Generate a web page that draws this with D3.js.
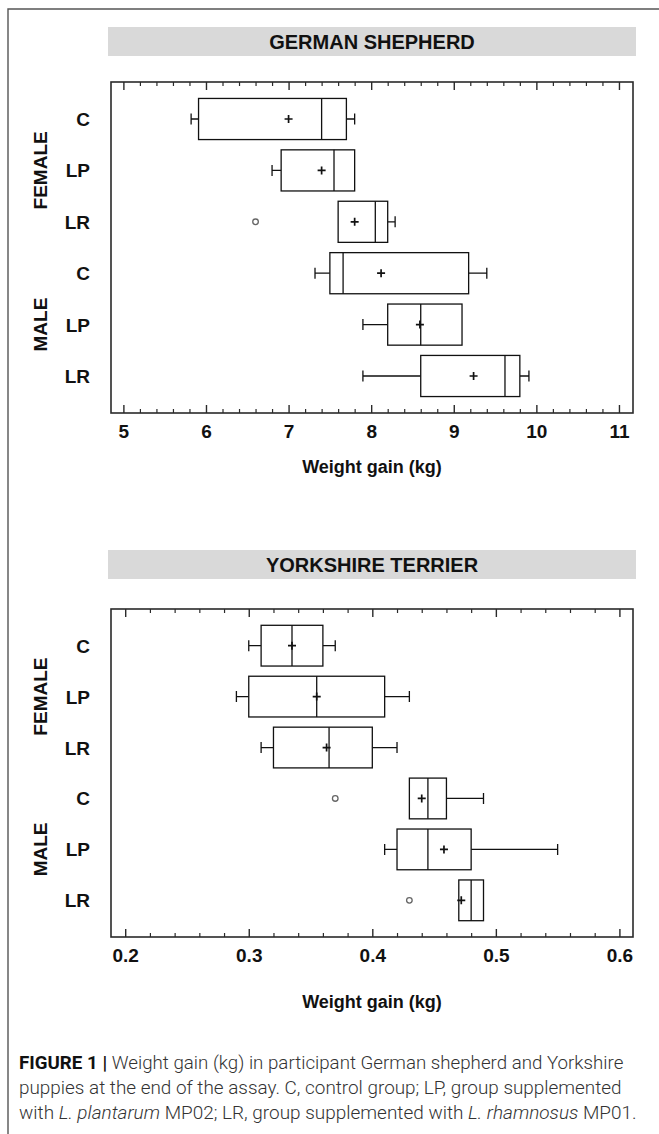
<!DOCTYPE html>
<html>
<head>
<meta charset="utf-8">
<script src="https://cdn.jsdelivr.net/npm/d3@7"></script>
<style>
  html,body{margin:0;padding:0;background:#fff;}
  svg{display:block;}
</style>
</head>
<body>
<svg id="fig" width="659" height="1134"></svg>
<script>
const rowKeys=["F-C","F-LP","F-LR","M-C","M-LP","M-LR"];
const rowLabels=["C","LP","LR","C","LP","LR"];
const sexLabels=["FEMALE","MALE"];
const sexMiddleRows=["F-LP","M-LP"];

// German shepherd, weight gain (kg)
const gsLow =[5.82,6.80,7.60,7.32,7.90,7.90];
const gsQ1  =[5.91,6.91,7.60,7.50,8.20,8.60];
const gsMed =[7.40,7.55,8.05,7.66,8.60,9.62];
const gsQ3  =[7.70,7.80,8.20,9.18,9.10,9.80];
const gsHigh=[7.80,7.80,8.29,9.40,9.10,9.91];
const gsMean=[7.00,7.40,7.80,8.12,8.59,9.24];
const gsOutliers=[{row:"F-LR",value:6.60}];
const gsTicks=[5,6,7,8,9,10,11];

// Yorkshire terrier, weight gain (kg)
const ytLow =[0.300,0.290,0.310,0.430,0.410,0.470];
const ytQ1  =[0.310,0.300,0.320,0.430,0.420,0.470];
const ytMed =[0.335,0.355,0.365,0.445,0.445,0.480];
const ytQ3  =[0.360,0.410,0.400,0.460,0.480,0.490];
const ytHigh=[0.370,0.430,0.420,0.490,0.550,0.490];
const ytMean=[0.335,0.355,0.363,0.440,0.458,0.472];
const ytOutliers=[{row:"M-C",value:0.370},{row:"M-LR",value:0.430}];
const ytTicks=[0.2,0.3,0.4,0.5,0.6];

const ink="#111", frameInk="#2a2a2a", band="#d9d9d9";
const chartFont="'Liberation Sans', Arial, sans-serif";
const svg=d3.select("#fig");

// outer figure border (left + top)
svg.append("path").attr("d","M8,1134V9H659").attr("fill","none")
  .attr("stroke","#555").attr("stroke-width",1.4);

function panel(o){
  const left=111,right=633;
  const x=d3.scaleLinear().domain(o.domain).range([left,right]);
  const y=d3.scaleBand().domain(rowKeys).range([o.top,o.bottom])
    .paddingInner(0.2).paddingOuter(0.32);
  const g=svg.append("g").attr("font-family",chartFont);

  // title band
  g.append("rect").attr("x",108).attr("y",o.bandY).attr("width",528).attr("height",29).attr("fill",band);
  g.append("text").attr("x",372).attr("y",o.bandY+21.5).attr("text-anchor","middle")
    .attr("font-size",20).attr("font-weight",700).attr("fill",ink).text(o.title);

  // axes (ticks point inward)
  const bottomAxis=g.append("g").attr("transform",`translate(0,${o.bottom})`)
    .call(d3.axisBottom(x).tickValues(o.ticks).tickSizeInner(-8).tickSizeOuter(0)
      .tickPadding(12).tickFormat(o.fmt))
    .call(s=>s.select(".domain").remove());
  bottomAxis.selectAll("line").attr("stroke",frameInk).attr("stroke-width",1.4);
  bottomAxis.selectAll("text").attr("font-size",19).attr("font-weight",700)
    .attr("font-family",chartFont).attr("fill",ink);
  g.append("g").attr("transform",`translate(0,${o.bottom})`)
    .call(d3.axisBottom(x).tickValues(o.minor).tickSizeInner(-4).tickSizeOuter(0).tickFormat(""))
    .call(s=>s.select(".domain").remove())
    .selectAll("line").attr("stroke",frameInk).attr("stroke-width",1.2);
  g.append("g").attr("transform",`translate(0,${o.top})`)
    .call(d3.axisTop(x).tickValues(o.ticks).tickSizeInner(-8).tickSizeOuter(0).tickFormat(""))
    .call(s=>s.select(".domain").remove())
    .selectAll("line").attr("stroke",frameInk).attr("stroke-width",1.4);
  g.append("g").attr("transform",`translate(0,${o.top})`)
    .call(d3.axisTop(x).tickValues(o.minor).tickSizeInner(-4).tickSizeOuter(0).tickFormat(""))
    .call(s=>s.select(".domain").remove())
    .selectAll("line").attr("stroke",frameInk).attr("stroke-width",1.2);

  g.append("rect").attr("x",left).attr("y",o.top).attr("width",right-left).attr("height",o.bottom-o.top)
    .attr("fill","none").attr("stroke",frameInk).attr("stroke-width",1.6);

  g.append("text").attr("x",(left+right)/2).attr("y",o.titleY).attr("text-anchor","middle")
    .attr("font-size",18).attr("font-weight",700).attr("fill",ink).text("Weight gain (kg)");

  // row and group labels
  g.selectAll(".rowlab").data(rowKeys).join("text")
    .attr("x",90).attr("y",d=>y(d)+y.bandwidth()/2+7).attr("text-anchor","end")
    .attr("font-size",19).attr("font-weight",700).attr("fill",ink)
    .text((d,i)=>rowLabels[i]);
  g.selectAll(".sexlab").data(sexMiddleRows).join("text")
    .attr("transform",d=>`translate(47,${y(d)+y.bandwidth()/2}) rotate(-90)`)
    .attr("text-anchor","middle").attr("font-size",19).attr("font-weight",700).attr("fill",ink)
    .text((d,i)=>sexLabels[i]);

  // box plots
  const data=rowKeys.map((k,i)=>({k,lo:o.lo[i],q1:o.q1[i],med:o.med[i],q3:o.q3[i],hi:o.hi[i],mean:o.mean[i]}));
  const bw=y.bandwidth(), cy=d=>y(d.k)+bw/2;
  const box=g.selectAll(".box").data(data).join("g").attr("fill","none")
    .attr("stroke",ink).attr("stroke-width",1.3);
  box.filter(d=>d.lo<d.q1).append("path")
    .attr("d",d=>`M${x(d.lo)},${cy(d)-5.5}V${cy(d)+5.5}M${x(d.lo)},${cy(d)}H${x(d.q1)}`);
  box.filter(d=>d.hi>d.q3).append("path")
    .attr("d",d=>`M${x(d.hi)},${cy(d)-5.5}V${cy(d)+5.5}M${x(d.q3)},${cy(d)}H${x(d.hi)}`);
  box.append("rect").attr("x",d=>x(d.q1)).attr("y",d=>y(d.k))
    .attr("width",d=>x(d.q3)-x(d.q1)).attr("height",bw).attr("fill","#fff");
  box.append("line").attr("x1",d=>x(d.med)).attr("x2",d=>x(d.med))
    .attr("y1",d=>y(d.k)).attr("y2",d=>y(d.k)+bw);
  box.append("path").attr("stroke-width",1.7)
    .attr("d",d=>`M${x(d.mean)-4},${cy(d)}H${x(d.mean)+4}M${x(d.mean)},${cy(d)-4}V${cy(d)+4}`);

  g.selectAll(".out").data(o.outliers).join("circle")
    .attr("cx",d=>x(d.value)).attr("cy",d=>y(d.row)+bw/2).attr("r",2.8)
    .attr("fill","none").attr("stroke","#666").attr("stroke-width",1.3);
}

panel({title:"GERMAN SHEPHERD",bandY:27,top:82,bottom:413,titleY:473,
  domain:[4.85,11.17],ticks:gsTicks,fmt:d3.format("d"),
  minor:d3.range(5,11.001,0.2).map(v=>+v.toFixed(1)).filter(v=>v%1!==0),
  lo:gsLow,q1:gsQ1,med:gsMed,q3:gsQ3,hi:gsHigh,mean:gsMean,outliers:gsOutliers});

panel({title:"YORKSHIRE  TERRIER",bandY:550,top:609,bottom:937,titleY:1008,
  domain:[0.1885,0.611],ticks:ytTicks,fmt:d3.format(".1f"),
  minor:d3.range(0.2,0.6001,0.02).map(v=>+v.toFixed(2)).filter(v=>Math.round(v*100)%10!==0),
  lo:ytLow,q1:ytQ1,med:ytMed,q3:ytQ3,hi:ytHigh,mean:ytMean,outliers:ytOutliers});

// caption
const captionLines=[
  {y:1069,w:605,parts:[{t:"FIGURE 1 | ",b:true},{t:"Weight gain (kg) in participant German shepherd and Yorkshire"}]},
  {y:1094,w:603,parts:[{t:"puppies at the end of the assay. C, control group; LP, group supplemented"}]},
  {y:1119,w:618,parts:[{t:"with "},{t:"L. plantarum",i:true},{t:" MP02; LR, group supplemented with "},{t:"L. rhamnosus",i:true},{t:" MP01."}]}
];
captionLines.forEach(line=>{
  const t=svg.append("text").attr("font-family","Roboto, 'Open Sans', sans-serif")
    .attr("font-size",17.5).attr("font-weight",300).attr("fill","#333");
  line.parts.forEach(p=>{
    t.append("tspan").text(p.t)
      .attr("font-weight",p.b?700:null).attr("fill",p.b?"#111":null)
      .attr("font-style",p.i?"italic":null);
  });
  const k=line.w/t.node().getComputedTextLength();
  t.attr("transform",`translate(19,${line.y}) scale(${k},1)`);
});
</script>
</body>
</html>
